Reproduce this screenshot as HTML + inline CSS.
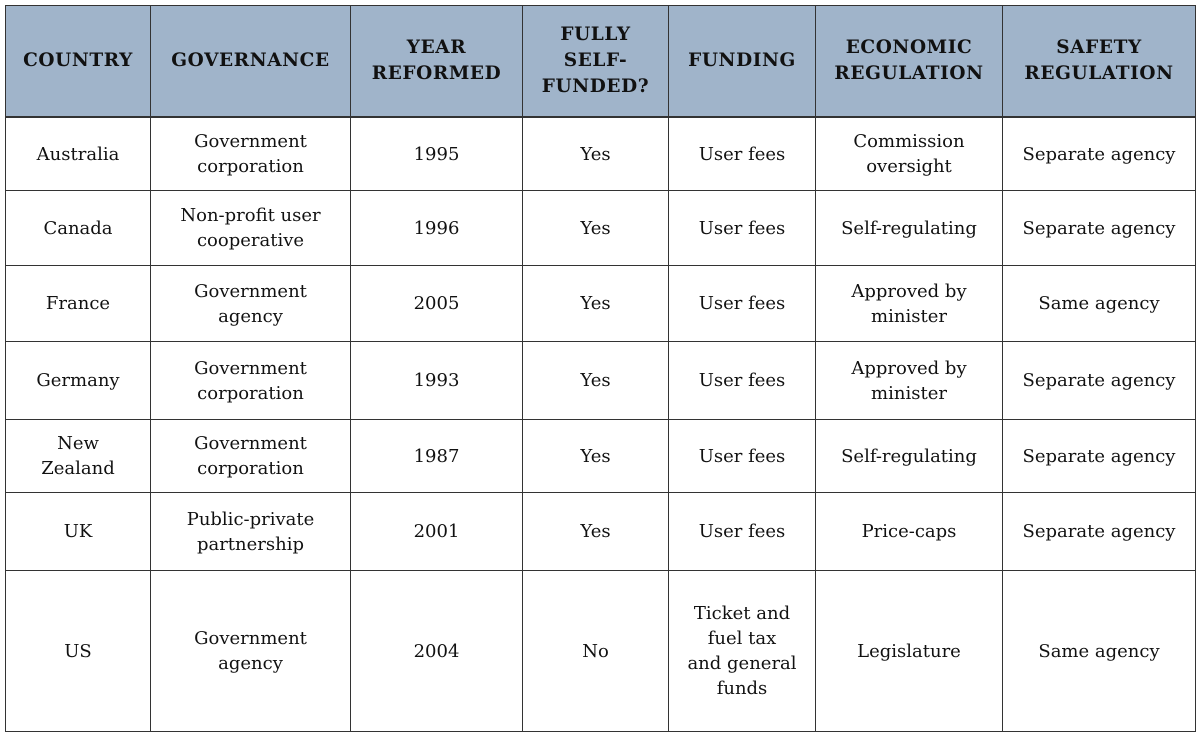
<!DOCTYPE html>
<html><head><meta charset="utf-8"><style>
body{margin:0;width:1200px;height:737px;background:#fff;position:relative;overflow:hidden;font-family:"DejaVu Serif","Liberation Serif",serif;color:#111}
.c{position:absolute;display:flex;align-items:center;justify-content:center;text-align:center;box-sizing:border-box;border-right:1px solid #333;border-bottom:1px solid #333;font-size:18px;line-height:25px}
.h{background:#a0b4ca;font-weight:bold;font-size:18.5px;letter-spacing:0.6px;line-height:26px;border-bottom:2px solid #333}
#tbl{position:absolute;left:5px;top:5px;width:1191px;height:727px;border-left:1px solid #333;border-top:1px solid #333;box-sizing:border-box}
</style></head><body>
<div id="tbl"></div>
<script>
const cols=[5,151,351,523,669,816,1003,1196];
const rows=[5,118,191,266,342,420,493,571,732];
const headers=["COUNTRY","GOVERNANCE","YEAR<br>REFORMED","FULLY<br>SELF-<br>FUNDED?","FUNDING","ECONOMIC<br>REGULATION","SAFETY<br>REGULATION"];
const data=[
["Australia","Government<br>corporation","1995","Yes","User fees","Commission<br>oversight","Separate agency"],
["Canada","Non-profit user<br>cooperative","1996","Yes","User fees","Self-regulating","Separate agency"],
["France","Government<br>agency","2005","Yes","User fees","Approved by<br>minister","Same agency"],
["Germany","Government<br>corporation","1993","Yes","User fees","Approved by<br>minister","Separate agency"],
["New<br>Zealand","Government<br>corporation","1987","Yes","User fees","Self-regulating","Separate agency"],
["UK","Public-private<br>partnership","2001","Yes","User fees","Price-caps","Separate agency"],
["US","Government<br>agency","2004","No","Ticket and<br>fuel tax<br>and general<br>funds","Legislature","Same agency"]];
const keys=["country","governance","year-reformed","fully-self-funded","funding","economic-regulation","safety-regulation"];
function cell(r,c,html,isH){
 const d=document.createElement('div');
 d.className='c'+(isH?' h':'');
 d.style.left=(cols[c]+(c==0?1:0))+'px';d.style.top=(rows[r]+(r==0?1:0))+'px';
 d.style.width=(cols[c+1]-cols[c]-(c==0?1:0))+'px';d.style.height=(rows[r+1]-rows[r]-(r==0?1:0))+'px';
 d.innerHTML='<span>'+html+'</span>';
 
 
 document.body.appendChild(d);
}
headers.forEach((h,c)=>cell(0,c,h,true));
data.forEach((row,i)=>row.forEach((v,c)=>cell(i+1,c,v,false)));
</script>
</body></html>
